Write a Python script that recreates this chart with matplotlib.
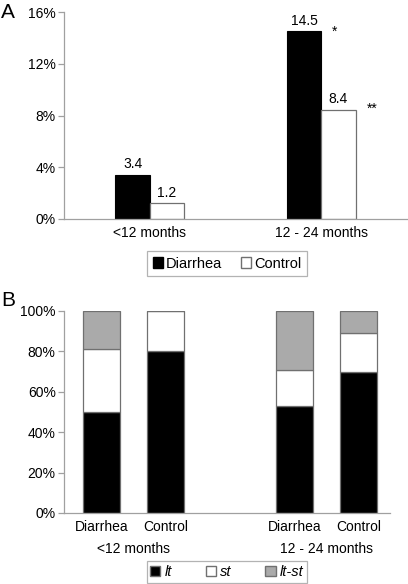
import matplotlib.pyplot as plt
from matplotlib.patches import Patch

plt.rcParams['font.family'] = ['Liberation Sans', 'DejaVu Sans']

# panel A data
age_groups = ['<12 months', '12 - 24 months']
diarrhea_pct = [3.4, 14.5]
control_pct = [1.2, 8.4]
signif = ['', '*']
signif_ctrl = ['', '**']

# panel B data
bar_names = ['Diarrhea', 'Control', 'Diarrhea', 'Control']
bar_pos = [0, 1, 3, 4]
lt = [50, 80, 53, 70]
st = [31, 20, 18, 19]
lt_st = [19, 0, 29, 11]

GRAY_AX = '#a0a0a0'
EDGE = '#707070'
FS = 10

fig = plt.figure(figsize=(4.08, 5.84), dpi=100)


def style_axes(ax):
    for s in ['top', 'right']:
        ax.spines[s].set_visible(False)
    for s in ['left', 'bottom']:
        ax.spines[s].set_color(GRAY_AX)
        ax.spines[s].set_linewidth(0.9)
    ax.tick_params(axis='y', colors=GRAY_AX, labelcolor='black', length=4,
                   width=0.9, labelsize=FS, pad=2)
    ax.tick_params(axis='x', length=0, labelsize=FS, pad=5)


# ---- panel A ----
axA = fig.add_axes([64 / 408, 1 - 219 / 584, 343 / 408, 207 / 584])
style_axes(axA)
w = 0.2
xs = range(len(age_groups))
axA.bar([x - w / 2 for x in xs], diarrhea_pct, w, color='black', edgecolor='black', linewidth=0.8)
axA.bar([x + w / 2 for x in xs], control_pct, w, color='white', edgecolor=EDGE, linewidth=0.9)
for x, v in zip(xs, diarrhea_pct):
    axA.text(x - w / 2, v + 0.3, '%.1f' % v, ha='center', va='bottom', fontsize=FS)
for x, v in zip(xs, control_pct):
    axA.text(x + w / 2, v + 0.3, '%.1f' % v, ha='center', va='bottom', fontsize=FS)
for x, v, s in zip(xs, diarrhea_pct, signif):
    if s:
        axA.text(x + 0.08, v - 0.55, s, ha='center', va='bottom', fontsize=FS)
for x, v, s in zip(xs, control_pct, signif_ctrl):
    if s:
        axA.text(x + 0.3, v - 0.45, s, ha='center', va='bottom', fontsize=FS)
axA.set_xlim(-0.5, 1.5)
axA.set_ylim(0, 16)
axA.set_yticks([0, 4, 8, 12, 16])
axA.set_yticklabels(['%d%%' % t for t in [0, 4, 8, 12, 16]])
axA.set_xticks(list(xs))
axA.set_xticklabels(age_groups)
legA = axA.legend(handles=[Patch(facecolor='black', edgecolor='black', label='Diarrhea'),
                           Patch(facecolor='white', edgecolor=EDGE, label='Control')],
                  ncol=2, loc='center', bbox_to_anchor=(227 / 408, 1 - 263.5 / 584),
                  bbox_transform=fig.transFigure, fontsize=FS + 0.5, frameon=True,
                  fancybox=False, handlelength=0.7, handleheight=0.7,
                  handletextpad=0.2, columnspacing=1.3, borderpad=0.4)
legA.get_frame().set_edgecolor(GRAY_AX)
legA.get_frame().set_linewidth(0.9)
fig.text(1 / 408, 1 - 13 / 584, 'A', fontsize=15, va='center', ha='left')

# ---- panel B ----
axB = fig.add_axes([64 / 408, 1 - 513 / 584, 326 / 408, 202 / 584])
style_axes(axB)
bw = 0.58
axB.bar(bar_pos, lt, bw, color='black', edgecolor=EDGE, linewidth=0.9)
axB.bar(bar_pos, st, bw, bottom=lt, color='white', edgecolor=EDGE, linewidth=0.9)
bottoms = [a + b for a, b in zip(lt, st)]
axB.bar(bar_pos, lt_st, bw, bottom=bottoms, color='#aaaaaa', edgecolor=EDGE, linewidth=0.9)
axB.set_xlim(-0.58, 4.49)
axB.set_ylim(0, 100)
axB.set_yticks(range(0, 101, 20))
axB.set_yticklabels(['%d%%' % t for t in range(0, 101, 20)])
axB.set_xticks(bar_pos)
axB.set_xticklabels(bar_names)
for i, g in enumerate(age_groups):
    xc = (bar_pos[2 * i] + bar_pos[2 * i + 1]) / 2
    axB.text(xc, -0.178, g, transform=axB.get_xaxis_transform(),
             ha='center', va='center', fontsize=FS)
legB = axB.legend(handles=[Patch(facecolor='black', edgecolor=EDGE, label='lt'),
                           Patch(facecolor='white', edgecolor=EDGE, label='st'),
                           Patch(facecolor='#aaaaaa', edgecolor=EDGE, label='lt-st')],
                  ncol=3, loc='center', bbox_to_anchor=(227 / 408, 1 - 572 / 584),
                  bbox_transform=fig.transFigure, prop={'size': FS + 0.5, 'style': 'italic'},
                  frameon=True, fancybox=False, handlelength=0.7, handleheight=0.7,
                  handletextpad=0.3, columnspacing=2.3, borderpad=0.25)
legB.get_frame().set_edgecolor(GRAY_AX)
legB.get_frame().set_linewidth(0.9)
fig.text(1 / 408, 1 - 300 / 584, 'B', fontsize=15, va='center', ha='left')

fig.savefig('out.png', dpi=100)
